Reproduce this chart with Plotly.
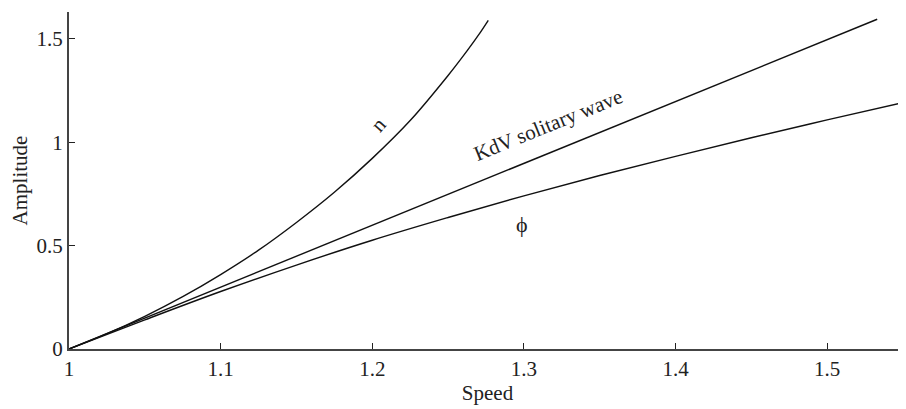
import plotly.graph_objects as go

# Data
n_speed = [1.0, 1.025, 1.05, 1.075, 1.1, 1.125, 1.15, 1.175, 1.2, 1.225, 1.25, 1.2625, 1.27, 1.2765]
n_amp = [0.0, 0.074, 0.158, 0.253, 0.36, 0.478, 0.612, 0.758, 0.922, 1.105, 1.323, 1.442, 1.518, 1.59]

kdv_speed = [1.0, 1.533]
kdv_amp = [0.0, 1.595]

phi_speed = [1.0, 1.05, 1.1, 1.15, 1.2, 1.25, 1.3, 1.35, 1.4, 1.45, 1.5, 1.55]
phi_amp = [0.0, 0.141, 0.278, 0.406, 0.526, 0.636, 0.741, 0.839, 0.932, 1.022, 1.108, 1.192]

x_ticks = [1.0, 1.1, 1.2, 1.3, 1.4, 1.5]
x_tick_text = ["1", "1.1", "1.2", "1.3", "1.4", "1.5"]
y_ticks = [0, 0.5, 1.0, 1.5]
y_tick_text = ["0", "0.5", "1", "1.5"]

FONT = "Liberation Serif, Times New Roman, serif"
line_style = dict(color="#111", width=1.4)

fig = go.Figure()
fig.add_trace(go.Scatter(x=n_speed, y=n_amp, mode="lines", line=dict(shape="spline", smoothing=1.0, **line_style)))
fig.add_trace(go.Scatter(x=kdv_speed, y=kdv_amp, mode="lines", line=line_style))
fig.add_trace(go.Scatter(x=phi_speed, y=phi_amp, mode="lines", line=dict(shape="spline", smoothing=1.0, **line_style)))

fig.add_annotation(x=1.2038, y=1.084, text="n", showarrow=False, textangle=-48,
                   font=dict(family=FONT, size=21, color="#222"))
fig.add_annotation(x=1.316, y=1.084, text="KdV solitary wave", showarrow=False, textangle=-22,
                   font=dict(family=FONT, size=21, color="#222"))
fig.add_annotation(x=1.2986, y=0.600, text="\u03d5", showarrow=False,
                   font=dict(family=FONT, size=22, color="#222"))

axis_common = dict(
    showgrid=False, zeroline=False, showline=True, linecolor="#444", linewidth=2,
    ticks="inside", ticklen=6, tickwidth=1.2, tickcolor="#222",
    tickfont=dict(family=FONT, size=21, color="#222"),
    title_font=dict(family=FONT, size=21, color="#222"),
    automargin=False,
)

# page body has an 8px margin; compensate so the plot lands where the reference has it
fig.update_layout(
    width=898, height=401,
    margin=dict(l=61, r=0, t=4, b=60),
    paper_bgcolor="white", plot_bgcolor="white",
    showlegend=False,
    xaxis=dict(range=[1.0, 1.552], tickvals=x_ticks, ticktext=x_tick_text,
               title=dict(text="Speed", standoff=4), **axis_common),
    yaxis=dict(range=[0, 1.63], tickvals=y_ticks, ticktext=y_tick_text,
               title=dict(text="Amplitude", standoff=8), **axis_common),
)

fig.write_html("out.html")
